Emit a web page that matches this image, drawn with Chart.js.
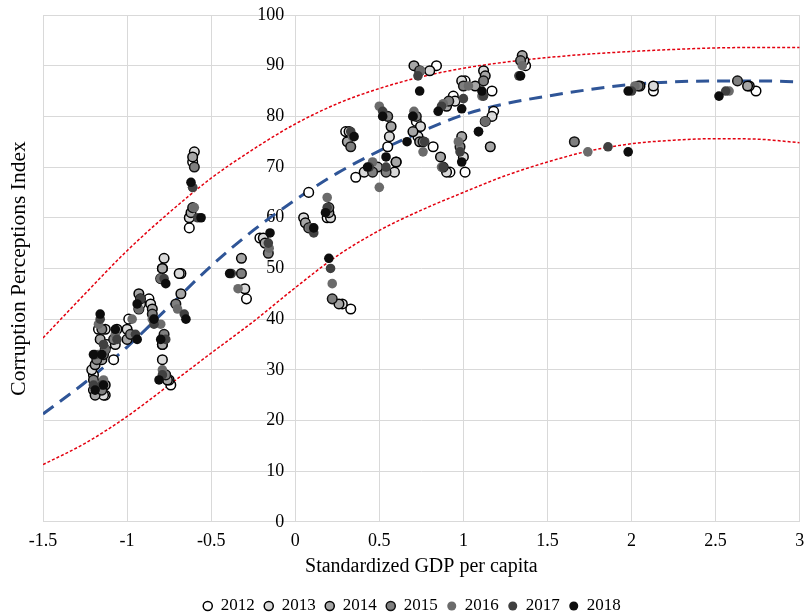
<!DOCTYPE html>
<html>
<head>
<meta charset="utf-8">
<script src="https://cdn.jsdelivr.net/npm/chart.js@4.4.1/dist/chart.umd.min.js"></script>
<style>
  html, body { margin: 0; padding: 0; background: #fff; }
  #wrap { width: 806px; height: 616px; }
</style>
</head>
<body>
<div id="wrap"><canvas id="chart"></canvas></div>
<script>
// Datos: PIB per cápita estandarizado (x) e IPC (y), por año
const years = ["2012", "2013", "2014", "2015", "2016", "2017", "2018"];

const gdp2012 = [-1.18, -1.13, -1.20, -1.17, -1.12, -1.08, -0.99, -0.93, -0.87, -0.79, -0.79, -0.74, -0.68, -0.61, -0.63, -0.29, -0.21, 0.08, 0.19, 0.33, 0.30, 0.36, 0.60, 0.55, 0.84, 0.72, 0.82, 0.92, 0.94, 1.01, 1.01, 1.17, 1.18, 1.37, 2.13, 2.74];
const cpi2012 = [27, 25, 29, 38, 35, 32, 40, 42, 44, 50, 35, 27, 49, 71, 58, 44, 56, 65, 60, 42, 77, 68, 71, 74, 90, 79, 74, 69, 84, 69, 87, 85, 81, 90, 85, 85];

const gdp2013 = [-1.20, -1.14, -1.21, -1.13, -1.13, -1.07, -1.00, -0.92, -0.86, -0.78, -0.79, -0.75, -0.69, -0.60, -0.63, -0.30, -0.19, 0.05, 0.21, 0.28, 0.32, 0.41, 0.59, 0.56, 0.80, 0.745, 0.73, 0.90, 0.95, 1.00, 0.99, 1.12, 1.17, 1.36, 2.13, 2.70];
const cpi2013 = [26, 25, 30, 38, 34, 35, 38, 43, 43, 52, 32, 28, 49, 73, 60, 46, 56, 60, 60, 43, 77, 69, 69, 76, 89, 78, 76, 69, 83, 72, 87, 89, 80, 91, 86, 86];

const gdp2014 = [-1.19, -1.13, -1.19, -1.16, -1.15, -1.06, -1.00, -0.93, -0.85, -0.79, -0.79, -0.76, -0.68, -0.61, -0.62, -0.32, -0.18, 0.06, 0.20, 0.26, 0.31, 0.49, 0.60, 0.57, 0.706, 0.70, 0.74, 0.864, 0.90, 0.99, 1.07, 1.13, 1.16, 1.35, 2.05, 2.69];
const cpi2014 = [25, 27, 31, 36, 32, 38, 36, 45, 42, 50, 35, 28, 45, 72, 61, 52, 55, 59, 61, 43, 75, 70, 71, 78, 90, 77, 75, 72, 82, 76, 86, 88, 74, 92, 86, 86];

const gdp2015 = [-1.20, -1.15, -1.18, -1.15, -1.14, -1.08, -0.98, -0.92, -0.85, -0.80, -0.78, -0.77, -0.71, -0.60, -0.61, -0.32, -0.16, 0.08, 0.20, 0.22, 0.33, 0.46, 0.54, 0.55, 0.74, 0.72, 0.76, 0.88, 0.913, 0.98, 1.00, 1.12, 1.13, 1.34, 1.66, 2.04, 2.63];
const cpi2015 = [28, 26, 32, 38, 33, 36, 37, 44, 41, 48, 37, 29, 43, 70, 62, 49, 53, 58, 62, 44, 74, 69, 69, 80, 89, 80, 75, 70, 83, 74, 86, 87, 79, 91, 75, 86, 87];

const gdp2016 = [-1.18, -1.14, -1.17, -1.17, -1.13, -1.07, -0.97, -0.93, -0.85, -0.80, -0.80, -0.79, -0.70, -0.61, -0.60, -0.34, -0.155, 0.09, 0.19, 0.22, 0.34, 0.46, 0.50, 0.50, 0.745, 0.706, 0.76, 0.87, 0.88, 0.97, 1.03, 1.11, 1.13, 1.35, 1.74, 2.02, 2.58];
const cpi2016 = [27, 28, 33, 39, 34, 37, 40, 42, 40, 48, 39, 30, 42, 66, 62, 46, 54, 58, 64, 47, 76, 71, 66, 82, 89, 81, 73, 70, 82.5, 75, 86, 84, 79, 90, 73, 86, 85];

const gdp2017 = [-1.20, -1.15, -1.19, -1.16, -1.14, -1.06, -0.95, -0.92, -0.84, -0.78, -0.77, -0.79, -0.66, -0.61, -0.58, -0.38, -0.16, 0.11, 0.19, 0.21, 0.33, 0.44, 0.54, 0.52, 0.73, 0.70, 0.77, 0.88, 0.87, 0.98, 1.00, 1.12, 1.09, 1.33, 1.86, 2.00, 2.56];
const cpi2017 = [27, 27, 33, 40, 35, 36, 37, 44, 39, 48, 36, 29, 41, 66, 60, 49, 55, 57, 62, 50, 77, 70, 70, 81, 88, 80, 75, 70, 82, 73, 83.5, 84, 77, 88, 74, 85, 85];

const gdp2018 = [-1.19, -1.14, -1.20, -1.16, -1.15, -1.07, -0.94, -0.94, -0.84, -0.77, -0.80, -0.81, -0.65, -0.62, -0.56, -0.39, -0.15, 0.11, 0.18, 0.20, 0.35, 0.43, 0.54, 0.52, 0.74, 0.70, 0.665, 0.85, 0.99, 0.99, 1.11, 1.09, 1.34, 1.98, 1.98, 2.52];
const cpi2018 = [26, 27, 33, 41, 33, 38, 36, 43, 40, 47, 36, 28, 40, 67, 60, 49, 57, 58, 61, 52, 76, 70, 72, 80, 85, 80, 75, 81, 71, 81.5, 85, 77, 88, 73, 85, 84];

// Curvas: ajuste (azul) y bandas superior/inferior (rojo)
const curveX = [-1.5, -1.25, -1, -0.75, -0.5, -0.25, 0, 0.25, 0.5, 0.75, 1, 1.25, 1.5, 1.75, 2, 2.25, 2.5, 2.75, 3];
const fitY   = [21.3, 27.5, 34.5, 42.5, 50.5, 57.5, 63.5, 68.8, 73.2, 77, 80.3, 82.5, 84, 85.3, 86.3, 86.8, 87, 87, 86.8];
const upperY = [36.3, 45, 53.5, 61, 67.8, 73.5, 78.5, 82.5, 85.5, 87.8, 89.5, 90.7, 91.6, 92.3, 92.8, 93.2, 93.5, 93.6, 93.6];
const lowerY = [11.3, 15.5, 20.8, 27, 33.3, 39.5, 46.2, 52.5, 57.5, 61.5, 65, 68.3, 71, 73.2, 74.6, 75.3, 75.6, 75.5, 74.8];

const pts = (xs, ys) => xs.map((x, i) => ({ x: x, y: ys[i] }));

const yearData = [
    pts(gdp2012, cpi2012), pts(gdp2013, cpi2013), pts(gdp2014, cpi2014),
    pts(gdp2015, cpi2015), pts(gdp2016, cpi2016), pts(gdp2017, cpi2017),
    pts(gdp2018, cpi2018),
];
const fills   = ["#ffffff", "#d9d9d9", "#a6a6a6", "#7f7f7f", "#6b6b6b", "#404040", "#0d0d0d"];
const borders = ["#000000", "#000000", "#000000", "#111111", "#6b6b6b", "#404040", "#0d0d0d"];
const bWidths = [1.5, 1.5, 1.5, 1.5, 0, 0, 0];

const datasets = years.map((yr, i) => ({
    label: yr,
    data: yearData[i],
    backgroundColor: fills[i],
    borderColor: borders[i],
    borderWidth: bWidths[i],
    pointRadius: 4.8,
    pointHoverRadius: 4.8,
    order: 6 - i,
}));

const curve = (ys, color, width, dash) => ({
    label: "",
    data: pts(curveX, ys),
    showLine: true,
    borderColor: color,
    borderWidth: width,
    borderDash: dash,
    pointRadius: 0,
    fill: false,
    cubicInterpolationMode: "monotone",
    order: 10,
});
datasets.push(curve(fitY, "#2f5597", 3, [13, 8]));
datasets.push(curve(upperY, "#e3000f", 1.5, [3, 2]));
datasets.push(curve(lowerY, "#e3000f", 1.5, [3, 2]));

Chart.defaults.font.family = "'Liberation Serif', 'Times New Roman', serif";
Chart.defaults.color = "#000";

// quita el margen extra que Chart.js reserva para las etiquetas de los extremos
const noEdgePadding = (s) => {
    s.paddingLeft = 0; s.paddingRight = 0; s.paddingTop = 0; s.paddingBottom = 0;
};

new Chart(document.getElementById("chart"), {
    type: "scatter",
    data: { datasets: datasets },
    options: {
        responsive: true,
        maintainAspectRatio: false,
        animation: false,
        layout: { padding: { top: 15, right: 0, left: 18, bottom: -8.5 } },
        scales: {
            x: {
                type: "linear",
                min: -1.5,
                max: 3,
                afterFit: noEdgePadding,
                ticks: {
                    stepSize: 0.5,
                    font: { size: 18 },
                    padding: 9,
                    color: "#000",
                    callback: (v) => String(Math.round(v * 10) / 10),
                },
                grid: { color: "#d9d9d9", drawTicks: false },
                border: { color: "#d9d9d9" },
                title: {
                    display: true,
                    text: "Standardized GDP per capita",
                    font: { size: 20 },
                    padding: { top: -7, bottom: 9.5 },
                },
            },
            y: {
                type: "linear",
                // etiquetas pegadas al eje x = 0, con un pequeño hueco
                position: { x: -0.065 },
                min: 0,
                max: 100,
                afterFit: noEdgePadding,
                ticks: { stepSize: 10, font: { size: 18 }, color: "#000" },
                grid: { color: "#d9d9d9", drawTicks: false },
                border: { display: false },
            },
            yTitle: {
                type: "linear",
                position: "left",
                min: 0,
                max: 100,
                afterFit: noEdgePadding,
                ticks: { display: false },
                grid: { display: false },
                border: { display: false },
                title: {
                    display: true,
                    text: "Corruption Perceptions Index",
                    font: { size: 21.5 },
                    padding: { top: -11.9, bottom: 3.1 },
                },
            },
        },
        plugins: {
            legend: {
                position: "bottom",
                labels: {
                    usePointStyle: true,
                    boxWidth: 9,
                    boxHeight: 6.4,
                    padding: 9.5,
                    font: { size: 17 },
                    color: "#000",
                    filter: (item) => item.datasetIndex < 7,
                    sort: (a, b) => a.datasetIndex - b.datasetIndex,
                },
            },
            tooltip: { enabled: false },
        },
    },
});
</script>
</body>
</html>
